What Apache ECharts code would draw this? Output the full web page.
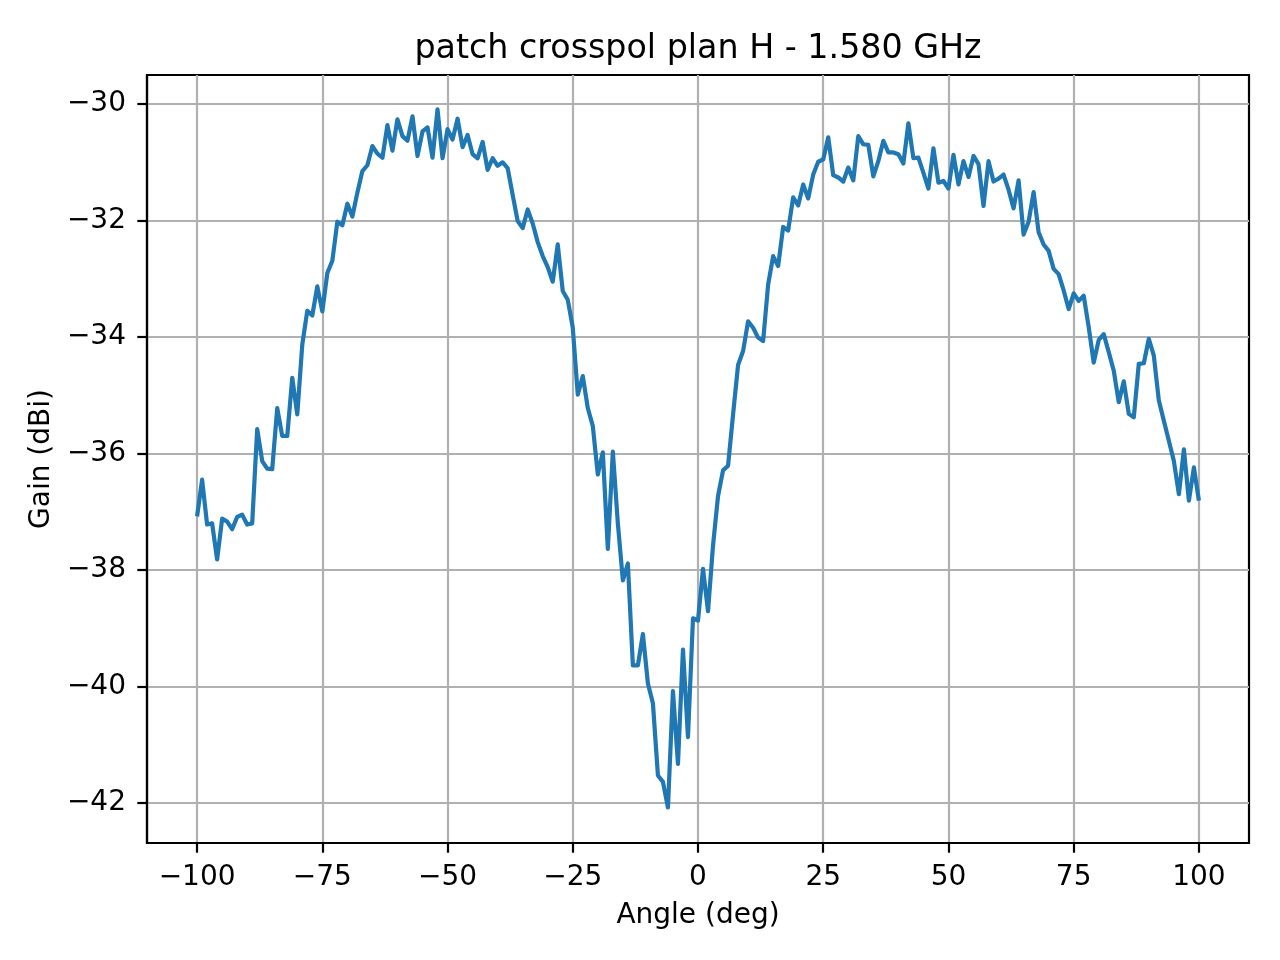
<!DOCTYPE html>
<html>
<head>
<meta charset="utf-8">
<script src="https://cdn.jsdelivr.net/npm/echarts@6/dist/echarts.min.js"></script>
<style>
  html, body { margin: 0; padding: 0; background: #fff; }
  #chart { width: 1280px; height: 960px; }
</style>
</head>
<body>
<div id="chart"></div>
<script>
// angle sampling (deg)
const angles = [
  -100, -99, -98, -97, -96, -95, -94, -93, -92, -91,
  -90, -89, -88, -87, -86, -85, -84, -83, -82, -81,
  -80, -79, -78, -77, -76, -75, -74, -73, -72, -71,
  -70, -69, -68, -67, -66, -65, -64, -63, -62, -61,
  -60, -59, -58, -57, -56, -55, -54, -53, -52, -51,
  -50, -49, -48, -47, -46, -45, -44, -43, -42, -41,
  -40, -39, -38, -37, -36, -35, -34, -33, -32, -31,
  -30, -29, -28, -27, -26, -25, -24, -23, -22, -21,
  -20, -19, -18, -17, -16, -15, -14, -13, -12, -11,
  -10, -9, -8, -7, -6, -5, -4, -3, -2, -1,
  0, 1, 2, 3, 4, 5, 6, 7, 8, 9,
  10, 11, 12, 13, 14, 15, 16, 17, 18, 19,
  20, 21, 22, 23, 24, 25, 26, 27, 28, 29,
  30, 31, 32, 33, 34, 35, 36, 37, 38, 39,
  40, 41, 42, 43, 44, 45, 46, 47, 48, 49,
  50, 51, 52, 53, 54, 55, 56, 57, 58, 59,
  60, 61, 62, 63, 64, 65, 66, 67, 68, 69,
  70, 71, 72, 73, 74, 75, 76, 77, 78, 79,
  80, 81, 82, 83, 84, 85, 86, 87, 88, 89,
  90, 91, 92, 93, 94, 95, 96, 97, 98, 99,
  100
];

// gain (dBi)
const gain = [
  -37.08, -36.45, -37.22, -37.20, -37.82, -37.12, -37.17, -37.30, -37.09, -37.05,
  -37.22, -37.20, -35.58, -36.13, -36.26, -36.27, -35.22, -35.70, -35.70, -34.70,
  -35.33, -34.13, -33.55, -33.63, -33.13, -33.56, -32.90, -32.69, -32.02, -32.08,
  -31.71, -31.93, -31.52, -31.15, -31.05, -30.72, -30.85, -30.92, -30.36, -30.80,
  -30.26, -30.55, -30.63, -30.21, -30.89, -30.47, -30.40, -30.92, -30.09, -30.93,
  -30.43, -30.61, -30.25, -30.74, -30.53, -30.86, -30.93, -30.65, -31.13, -30.93,
  -31.06, -31.00, -31.10, -31.56, -32.01, -32.13, -31.81, -32.05, -32.37, -32.61,
  -32.80, -33.05, -32.41, -33.21, -33.36, -33.84, -34.99, -34.67, -35.22, -35.53,
  -36.36, -35.98, -37.64, -35.97, -37.20, -38.18, -37.89, -39.64, -39.64, -39.10,
  -39.95, -40.29, -41.53, -41.64, -42.08, -40.08, -41.33, -39.37, -40.87, -38.83,
  -38.87, -37.98, -38.71, -37.58, -36.73, -36.29, -36.21, -35.33, -34.48, -34.24,
  -33.73, -33.84, -34.01, -34.07, -33.10, -32.61, -32.78, -32.11, -32.17, -31.60,
  -31.74, -31.38, -31.62, -31.21, -30.99, -30.95, -30.57, -31.22, -31.26, -31.33,
  -31.09, -31.31, -30.55, -30.69, -30.70, -31.24, -30.98, -30.63, -30.83, -30.83,
  -30.86, -31.02, -30.33, -30.93, -30.92, -31.18, -31.45, -30.76, -31.35, -31.32,
  -31.45, -30.87, -31.38, -30.98, -31.25, -30.89, -31.03, -31.75, -30.98, -31.33,
  -31.28, -31.21, -31.47, -31.79, -31.31, -32.24, -32.02, -31.51, -32.20, -32.41,
  -32.52, -32.83, -32.92, -33.20, -33.52, -33.25, -33.38, -33.29, -33.83, -34.44,
  -34.05, -33.95, -34.26, -34.58, -35.12, -34.76, -35.32, -35.38, -34.46, -34.45,
  -34.03, -34.32, -35.09, -35.44, -35.78, -36.13, -36.70, -35.93, -36.81, -36.24,
  -36.81
];

// tick labels
const xTicks = [-100, -75, -50, -25, 0, 25, 50, 75, 100];
const yTicks = [-42, -40, -38, -36, -34, -32, -30];

const FONT = 'DejaVu Sans';
const minus = v => String(v).replace('-', '\u2212');

const chart = echarts.init(document.getElementById('chart'), null, { renderer: 'canvas' });

const seriesData = angles.map((a, i) => [a, gain[i]]);

const option = {
  animation: false,
  backgroundColor: '#fff',
  title: {
    text: 'patch crosspol plan H - 1.580 GHz',
    left: 693,
    top: 28,
    textAlign: 'center',
    textStyle: { fontFamily: FONT, fontSize: 33.3, fontWeight: 'normal', color: '#000' }
  },
  grid: {
    left: 147, right: 31, top: 75, bottom: 117,
    show: true,
    borderColor: '#000',
    borderWidth: 2.2,
    backgroundColor: '#fff'
  },
  xAxis: {
    type: 'value',
    min: -110,
    max: 110,
    name: 'Angle (deg)',
    nameLocation: 'middle',
    nameGap: 59,
    nameTextStyle: { fontFamily: FONT, fontSize: 28, color: '#000' },
    axisLine: { show: true, onZero: false, lineStyle: { color: '#000', width: 2.2 } },
    axisTick: { show: true, customValues: xTicks, length: 9.7, lineStyle: { color: '#000', width: 2.2 } },
    axisLabel: {
      customValues: xTicks,
      margin: 21,
      fontFamily: FONT, fontSize: 28, color: '#000',
      formatter: minus
    },
    splitLine: { show: true, lineStyle: { color: '#b0b0b0', width: 2.2 } }
  },
  yAxis: {
    type: 'value',
    min: -42.69,
    max: -29.5,
    name: 'Gain (dBi)',
    nameLocation: 'middle',
    nameGap: 88,
    nameRotate: 90,
    nameTextStyle: { fontFamily: FONT, fontSize: 28, color: '#000' },
    axisLine: { show: true, onZero: false, lineStyle: { color: '#000', width: 2.2 } },
    axisTick: { show: true, customValues: yTicks, length: 9.7, lineStyle: { color: '#000', width: 2.2 } },
    axisLabel: {
      customValues: yTicks,
      margin: 21,
      fontFamily: FONT, fontSize: 28, color: '#000',
      formatter: minus
    },
    splitLine: { show: true, lineStyle: { color: '#b0b0b0', width: 2.2 } }
  },
  series: [{
    type: 'line',
    data: seriesData,
    showSymbol: false,
    symbol: 'none',
    lineStyle: { color: '#1f77b4', width: 4.2, join: 'round' },
    z: 3
  }]
};

chart.setOption(option);
</script>
</body>
</html>
